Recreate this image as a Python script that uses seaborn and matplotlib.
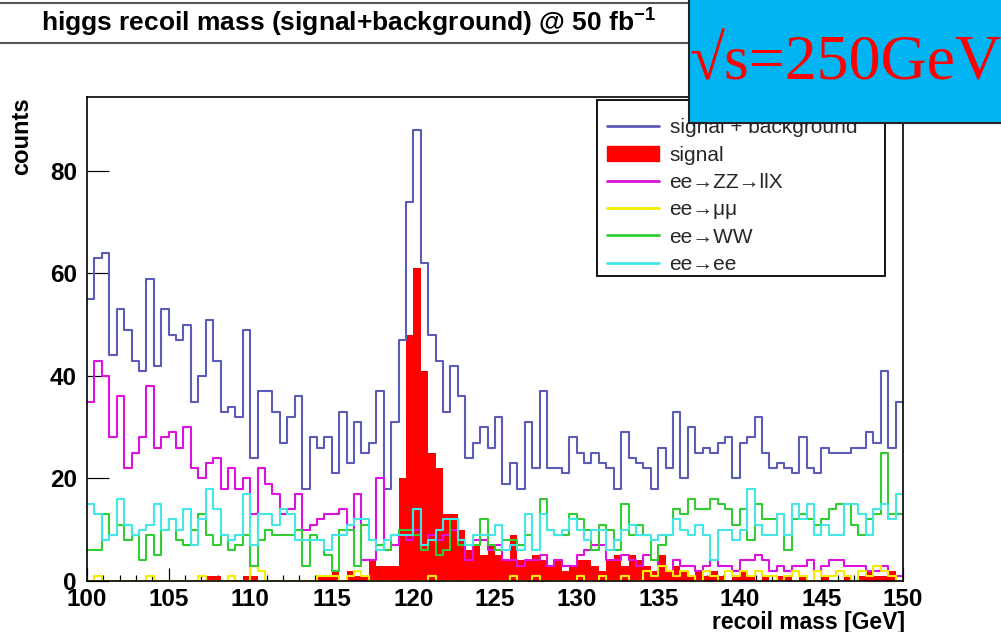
import numpy as np
import pandas as pd
import matplotlib
matplotlib.use("Agg")
import matplotlib.pyplot as plt
from matplotlib.lines import Line2D
from matplotlib.patches import Patch, Rectangle
from matplotlib.ticker import MultipleLocator
import seaborn as sns

# Recoil-mass histogram: 110 bins between 100 and 150 GeV
x_min, x_max, n_bins = 100.0, 150.0, 110

sig_plus_bkg = [55, 63, 64, 44, 53, 49, 43, 41, 59, 42,
                53, 48, 47, 50, 35, 40, 51, 43, 33, 34,
                32, 49, 24, 37, 37, 33, 27, 32, 36, 18,
                28, 26, 28, 21, 33, 23, 31, 25, 27, 37,
                18, 31, 47, 74, 88, 62, 48, 43, 33, 42,
                36, 24, 27, 30, 26, 32, 19, 23, 18, 31,
                22, 37, 22, 22, 21, 28, 25, 23, 25, 23,
                22, 18, 29, 24, 23, 22, 18, 26, 22, 33,
                20, 30, 25, 26, 25, 27, 28, 20, 27, 28,
                32, 25, 22, 23, 22, 21, 28, 22, 21, 26,
                25, 25, 25, 26, 26, 29, 27, 41, 26, 35]

signal = [0, 0, 0, 0, 0, 0, 0, 0, 0, 0,
          0, 0, 0, 0, 0, 0, 1, 1, 0, 0,
          0, 1, 1, 0, 0, 0, 0, 0, 0, 0,
          0, 1, 1, 2, 0, 2, 1, 1, 4, 3,
          3, 3, 20, 48, 61, 41, 25, 22, 13, 13,
          10, 6, 7, 5, 7, 5, 4, 9, 4, 4,
          5, 4, 3, 4, 2, 3, 4, 4, 3, 2,
          4, 5, 3, 5, 4, 3, 2, 5, 2, 3,
          2, 1, 2, 1, 2, 1, 0, 1, 2, 1,
          0, 1, 0, 1, 1, 0, 1, 0, 0, 1,
          0, 0, 1, 0, 1, 2, 1, 1, 2, 0]

ee_zz_llx = [35, 43, 40, 28, 36, 22, 25, 28, 38, 26,
             28, 29, 26, 30, 22, 20, 23, 24, 18, 22,
             18, 20, 13, 22, 19, 17, 13, 14, 17, 10,
             11, 12, 13, 13, 14, 10, 17, 4, 4, 20,
             6, 7, 9, 8, 10, 7, 9, 8, 9, 10,
             7, 4, 8, 8, 6, 7, 4, 4, 3, 4,
             4, 5, 3, 4, 3, 3, 5, 6, 7, 7,
             4, 4, 5, 4, 3, 5, 4, 3, 2, 4,
             3, 3, 2, 3, 4, 3, 3, 2, 4, 4,
             5, 4, 2, 3, 2, 3, 3, 4, 2, 3,
             4, 4, 3, 3, 3, 2, 2, 3, 1, 1]

ee_mumu = [0, 1, 0, 0, 0, 0, 0, 0, 1, 0,
           0, 0, 0, 0, 0, 1, 0, 0, 0, 1,
           0, 0, 3, 2, 0, 0, 0, 0, 0, 0,
           0, 1, 1, 1, 0, 1, 2, 1, 0, 0,
           0, 0, 0, 0, 0, 0, 1, 0, 0, 0,
           0, 0, 0, 0, 0, 0, 0, 1, 0, 0,
           1, 0, 0, 0, 0, 0, 1, 0, 0, 1,
           0, 0, 1, 0, 0, 2, 1, 3, 2, 1,
           2, 1, 0, 2, 1, 0, 2, 1, 2, 1,
           2, 1, 1, 0, 1, 2, 1, 0, 2, 1,
           1, 2, 1, 0, 2, 1, 3, 2, 1, 0]

ee_ww = [6, 6, 13, 9, 11, 8, 9, 4, 9, 5,
         10, 12, 8, 7, 10, 13, 9, 7, 9, 6,
         7, 9, 3, 8, 10, 9, 9, 9, 10, 3,
         9, 8, 5, 2, 10, 10, 3, 11, 8, 7,
         6, 9, 10, 10, 9, 6, 8, 5, 6, 12,
         7, 7, 7, 12, 7, 6, 8, 8, 7, 9,
         6, 16, 10, 9, 9, 13, 12, 10, 6, 11,
         10, 6, 15, 9, 11, 9, 4, 7, 9, 14,
         13, 16, 14, 14, 16, 15, 14, 11, 14, 8,
         15, 12, 12, 13, 6, 12, 13, 12, 11, 12,
         14, 15, 15, 11, 9, 12, 13, 25, 13, 13]

ee_ee = [15, 13, 8, 9, 16, 11, 9, 10, 11, 15,
         10, 12, 10, 14, 7, 12, 18, 14, 9, 8,
         9, 17, 7, 13, 13, 11, 14, 13, 8, 8,
         8, 8, 6, 9, 9, 11, 12, 12, 8, 6,
         8, 9, 9, 9, 14, 7, 8, 10, 12, 12,
         8, 7, 9, 9, 9, 11, 6, 7, 6, 13,
         6, 13, 10, 9, 10, 12, 10, 8, 10, 10,
         6, 8, 10, 11, 9, 9, 8, 9, 9, 12,
         10, 9, 11, 9, 4, 10, 10, 8, 10, 18,
         11, 9, 9, 13, 9, 15, 12, 15, 9, 11,
         9, 9, 15, 15, 13, 9, 14, 15, 12, 17]

legend_labels = ["signal + background", "signal", "ee\u2192ZZ\u2192llX",
                 "ee\u2192\u03bc\u03bc", "ee\u2192WW", "ee\u2192ee"]
x_ticks = [100, 105, 110, 115, 120, 125, 130, 135, 140, 145, 150]
y_ticks = [0, 20, 40, 60, 80]
title_text = "higgs recoil mass (signal+background) @ 50 fb$^{\\mathregular{-1}}$"
x_title = "recoil mass [GeV]"
y_title = "counts"
energy_text = "\u221as=250GeV"

col_total = "#5b5bb8"
col_signal = "#ff0000"
col_zz = "#dd11dd"
col_mumu = "#f2ee00"
col_ww = "#33cc33"
col_ee = "#44e6e6"

edges = np.linspace(x_min, x_max, n_bins + 1)
centers = 0.5 * (edges[:-1] + edges[1:])

sns.set_theme(style="white")
plt.rcParams["font.family"] = ["Liberation Sans", "DejaVu Sans"]
sans = ["Liberation Sans", "DejaVu Sans"]

W, H = 1001, 632
PX = 72 / 100  # one pixel in points at 100 dpi
fig = plt.figure(figsize=(W / 100, H / 100), dpi=100)
fig.patch.set_facecolor("white")
ax = fig.add_axes([87 / W, 1 - 581 / H, (903 - 87) / W, (581 - 97) / H])
ax.set_facecolor("white")

def step_hist(values, color, fill=False, lw=1.5):
    df = pd.DataFrame({"mass": centers, "count": values})
    kw = dict(data=df, x="mass", weights="count", bins=n_bins,
              binrange=(x_min, x_max), element="step", ax=ax, legend=False)
    if fill:
        sns.histplot(fill=True, color=color, alpha=1.0, linewidth=0, **kw)
    else:
        sns.histplot(fill=False, color=color, linewidth=lw, **kw)

step_hist(sig_plus_bkg, col_total)
step_hist(signal, col_signal, fill=True)
step_hist(ee_zz_llx, col_zz)
step_hist(ee_mumu, col_mumu)
step_hist(ee_ww, col_ww)
step_hist(ee_ee, col_ee)

ax.set_xlim(x_min, x_max)
ax.set_ylim(0, 94.4)
ax.set_xticks(x_ticks)
ax.set_yticks(y_ticks)
ax.xaxis.set_minor_locator(MultipleLocator(1))
ax.tick_params(axis="x", which="major", direction="in", length=13 * PX,
               width=1.2 * PX, color="black", pad=7 * PX, bottom=True)
ax.tick_params(axis="x", which="minor", direction="in", length=6 * PX,
               width=1.2 * PX, color="black", bottom=True)
ax.tick_params(axis="y", which="major", direction="in", length=22 * PX,
               width=1.2 * PX, color="black", pad=10 * PX, left=True)
for lab in ax.get_xticklabels() + ax.get_yticklabels():
    lab.set_family(sans)
    lab.set_fontweight("bold")
    lab.set_fontsize(17.5)
    lab.set_color("black")

for s in ax.spines.values():
    s.set_color("black")
    s.set_linewidth(1.2)

ax.set_xlabel("")
ax.set_ylabel("")
fig.text(905 / W, 1 - 629 / H, x_title, ha="right", va="baseline",
         fontsize=16.5, fontweight="bold", family=sans, color="black")
fig.text(22 / W, 1 - 97 / H, y_title, ha="center", va="top", rotation=90,
         fontsize=17, fontweight="bold", family=sans, color="black")

# Legend: white pave with a black border, entries drawn on top
ax.add_patch(Rectangle((597 / W, 1 - 276 / H), (885 - 597) / W, (276 - 100) / H,
                       transform=fig.transFigure, facecolor="white",
                       edgecolor="black", linewidth=1.3, zorder=4.5))
handles = [Line2D([], [], color=col_total, lw=2),
           Patch(facecolor=col_signal, edgecolor=col_signal),
           Line2D([], [], color=col_zz, lw=2),
           Line2D([], [], color=col_mumu, lw=2),
           Line2D([], [], color=col_ww, lw=2),
           Line2D([], [], color=col_ee, lw=2)]
leg = ax.legend(handles, legend_labels, loc="lower left",
                bbox_to_anchor=(607 / W, 1 - 274 / H),
                bbox_transform=fig.transFigure, borderaxespad=0,
                prop={"family": sans, "size": 15},
                frameon=False, handlelength=2.5, handletextpad=0.5,
                labelspacing=0.40, borderpad=0)
leg.set_zorder(5)

# Title pave along the top edge
fig.patches.append(Rectangle((-0.01, 1 - 43 / H), 0.71, 40 / H,
                             transform=fig.transFigure, facecolor="white",
                             edgecolor="#555555", linewidth=1.5, zorder=5))
fig.text(348 / W, 1 - 22 / H, title_text, ha="center", va="center",
         fontsize=19, fontweight="bold", family=sans, color="black", zorder=6)

# Centre-of-mass energy box in the top-right corner
fig.patches.append(Rectangle((689 / W, 1 - 123 / H), 1 - 689 / W + 0.01,
                             123 / H + 0.01, transform=fig.transFigure,
                             facecolor="#00b5f2", edgecolor="#222222",
                             linewidth=1.5, zorder=7))
fig.text(846 / W, 1 - 80 / H, energy_text, ha="center", va="baseline",
         fontsize=46, color="#ff0000", zorder=8,
         family=["Liberation Serif", "DejaVu Serif"])

fig.savefig("out.png", dpi=100, facecolor="white")
